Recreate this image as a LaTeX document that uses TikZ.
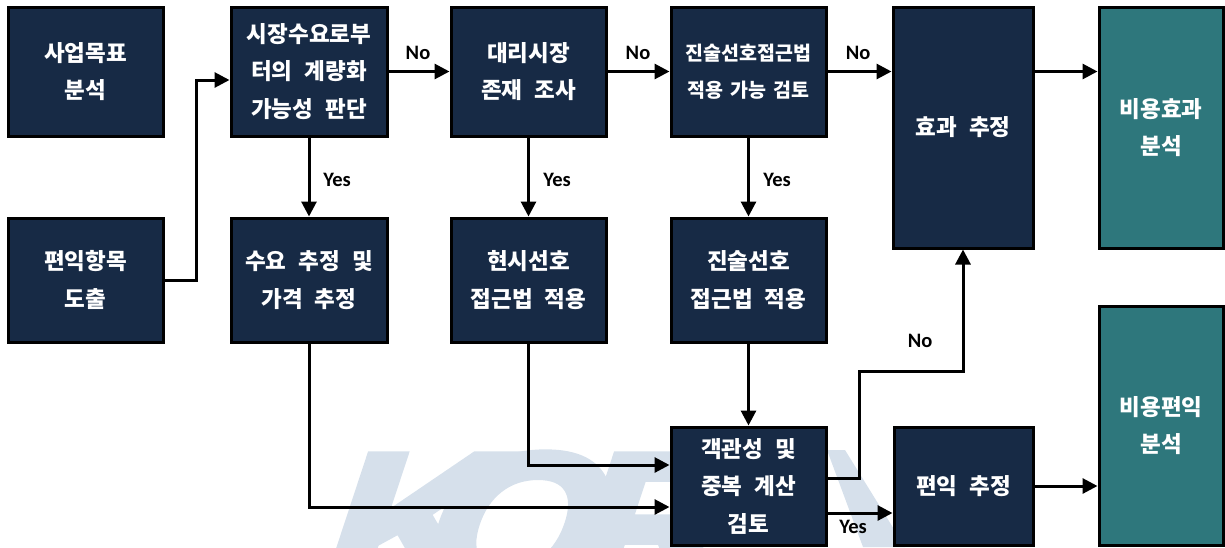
\documentclass[tikz,border=0pt]{standalone}
\usepackage{fontspec}
\newfontfamily\krfont{Noto Sans CJK KR}
\newfontfamily\latfont{Carlito}
\newfontfamily\wmfont[FakeSlant=0.33,FakeBold=4,FakeStretch=1.15]{Liberation Sans}
\usetikzlibrary{arrows.meta}
\definecolor{navy}{RGB}{23,42,69}
\definecolor{tealbox}{RGB}{46,119,124}
\definecolor{wmcol}{RGB}{214,224,235}
\newcommand\krbig{\krfont\bfseries\fontsize{22.5}{37.5}\selectfont\setlength{\spaceskip}{12pt}}
\newcommand\krsmall{\krfont\bfseries\fontsize{19.5}{37.5}\selectfont\setlength{\spaceskip}{7pt}}
\tikzset{
  box/.style={draw=black, line width=3pt, fill=navy, text=white, inner sep=0pt,
    align=center, font=\krbig},
  smallbox/.style={box, font=\krsmall},
  tbox/.style={box, fill=tealbox},
  arr/.style={line width=3pt, -{Triangle[length=15pt,width=15pt]}},
  lbl/.style={inner sep=0pt, font=\latfont\bfseries\fontsize{20.5}{22}\selectfont},
  wm/.style={anchor=base west, inner sep=0pt, text=wmcol, font=\wmfont\bfseries\fontsize{200}{200}\selectfont}
}
\begin{document}
\begin{tikzpicture}[x=1pt,y=-1pt]
\useasboundingbox (0,0) rectangle (1225,547);
\begin{scope}
\clip (0,0) rectangle (1225,547);
\node[wm] (wk) at (310,593) {K};
\node[wm] (wo) at (410,593) {O};
\node[wm] (wr) at (556,593) {R};
\fill[wmcol] (827,450) -- (845,450) -- (905,547) -- (863,547) -- cycle;
\end{scope}
% top row
\node[box, minimum width=155pt, minimum height=129pt] (b1) at (85.5,71.5) {사업목표\\분석};
\node[box, minimum width=156pt, minimum height=129pt] (b2) at (309,71.5) {시장수요로부\\터의 계량화\\가능성 판단};
\node[box, minimum width=155pt, minimum height=129pt] (b3) at (528.5,71.5) {대리시장\\존재 조사};
\node[smallbox, minimum width=155pt, minimum height=129pt] (b4) at (748.5,71.5) {진술선호접근법\\적용 가능 검토};
\node[box, minimum width=140pt, minimum height=241pt] (b5) at (963,127.5) {효과 추정};
\node[tbox, minimum width=124pt, minimum height=241pt] (b6) at (1161,127.5) {비용효과\\분석};
% middle row
\node[box, minimum width=155pt, minimum height=124pt] (c1) at (85.5,280) {편익항목\\도출};
\node[box, minimum width=156pt, minimum height=124pt] (c2) at (309,280) {수요 추정 및\\가격 추정};
\node[box, minimum width=155pt, minimum height=124pt] (c3) at (528.5,280) {현시선호\\접근법 적용};
\node[box, minimum width=155pt, minimum height=124pt] (c4) at (748.5,280) {진술선호\\접근법 적용};
% bottom row
\node[box, minimum width=155pt, minimum height=118pt] (d1) at (748.5,486) {객관성 및\\중복 계산\\검토};
\node[box, minimum width=139pt, minimum height=118pt] (d2) at (963.5,486) {편익 추정};
\node[tbox, minimum width=124pt, minimum height=239pt] (d3) at (1161,425.5) {비용편익\\분석};
% connectors
\draw[arr] (b2) -- (b3);
\draw[arr] (b3) -- (b4);
\draw[arr] (b4) -- (b5.west |- b4);
\draw[arr] (b5.east |- b4) -- (b6.west |- b4);
\draw[arr] (c1.east) -| ([xshift=-33pt,yshift=-8.5pt]b2.west) -- ([yshift=-8.5pt]b2.west);
\draw[arr] (b2) -- (c2);
\draw[arr] (b3) -- (c3);
\draw[arr] (b4) -- (c4);
\draw[arr] (c2.south) |- ([yshift=-21pt]d1.west);
\draw[arr] (c3.south) |- ([yshift=21pt]d1.west);
\draw[arr] (c4) -- (d1);
\coordinate (j2) at (859,371);
\draw[arr] ([yshift=8pt]d1.east) -| (j2) -| (b5.south);
\draw[arr] ([yshift=-27pt]d1.east) -- ([yshift=-27pt]d1.east -| d2.west);
\draw[arr] (d2) -- (d3.west |- d2);
% labels
\node[lbl] (n1) at (418,53) {No};
\node[lbl] (n2) at (638,53) {No};
\node[lbl] (n3) at (858,53) {No};
\node[lbl] (y1) at (337,180) {Yes};
\node[lbl] (y2) at (557,180) {Yes};
\node[lbl] (y3) at (777,180) {Yes};
\node[lbl] (n4) at (920,341) {No};
\node[lbl] (y4) at (853,527) {Yes};
\end{tikzpicture}
\end{document}
